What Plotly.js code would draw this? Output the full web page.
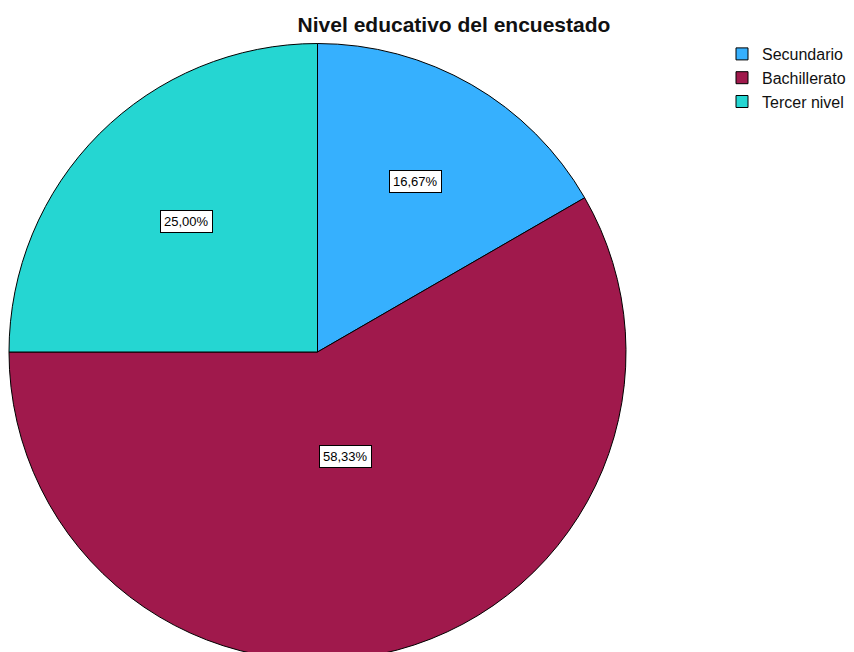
<!DOCTYPE html>
<html>
<head>
<meta charset="utf-8">
<script src="https://cdn.plot.ly/plotly-3.0.1.min.js"></script>
<style>
html,body{margin:0;padding:0;background:#fff;overflow:hidden;}
#wrap{width:854px;height:652px;overflow:hidden;}
#plot{width:854px;height:680px;}
</style>
</head>
<body>
<div id="wrap"><div id="plot"></div></div>
<script>
// Data
const categories = ["Secundario", "Bachillerato", "Tercer nivel"];
const counts = [2, 7, 3];
const sliceColors = ["#36B0FE", "#A0194C", "#25D6D2"];

// Layout geometry
const W = 854, H = 680;
const domX = [9 / W, 626 / W];
const domY = [1 - 661 / H, 1 - 43 / H];

// Label annotations placed at slice centroids, computed from the data
const total = counts.reduce((a, b) => a + b, 0);
const cxPx = (domX[0] + domX[1]) / 2 * W;
const cyPx = (1 - (domY[0] + domY[1]) / 2) * H;
const rPx = Math.min((domX[1] - domX[0]) * W, (domY[1] - domY[0]) * H) / 2;
let cum = 0;
const annotations = counts.map((v) => {
  const frac = v / total;
  const a = frac * 2 * Math.PI;
  const mid = (cum + frac / 2) * 2 * Math.PI; // clockwise from 12 o'clock
  cum += frac;
  const d = 4 * rPx * Math.sin(a / 2) / (3 * a);
  const px = cxPx + d * Math.sin(mid);
  const py = cyPx - d * Math.cos(mid);
  return {
    xref: "paper", yref: "paper",
    x: px / W, y: 1 - py / H,
    xanchor: "center", yanchor: "middle",
    text: (frac * 100).toFixed(2).replace(".", ",") + "%",
    showarrow: false,
    font: {family: "Liberation Sans, Arial, sans-serif", size: 13, color: "#000"},
    bgcolor: "#ffffff",
    bordercolor: "#000000",
    borderwidth: 1,
    borderpad: 3
  };
});

const trace = {
  type: "pie",
  labels: categories,
  values: counts,
  sort: false,
  direction: "clockwise",
  rotation: 0,
  textinfo: "none",
  hoverinfo: "label+percent",
  marker: {colors: sliceColors, line: {color: "#000000", width: 1}},
  domain: {x: domX, y: domY}
};

const layout = {
  width: W, height: H,
  margin: {l: 0, r: 0, t: 0, b: 0},
  paper_bgcolor: "#ffffff",
  separators: ",.",
  title: {
    text: "<b>Nivel educativo del encuestado</b>",
    x: 454 / W, xanchor: "center", xref: "paper",
    y: 1 - 25 / H, yanchor: "middle", yref: "paper",
    font: {family: "Liberation Sans, Arial, sans-serif", size: 21, color: "#111"}
  },
  showlegend: true,
  legend: {
    x: 722 / W, xanchor: "left",
    y: 1 - 37 / H, yanchor: "top",
    font: {family: "Liberation Sans, Arial, sans-serif", size: 16, color: "#111"},
    tracegroupgap: 0,
    itemwidth: 30,
    bgcolor: "rgba(0,0,0,0)"
  },
  annotations: annotations
};

Plotly.newPlot("plot", [trace], layout, {staticPlot: true, displayModeBar: false});
</script>
</body>
</html>
